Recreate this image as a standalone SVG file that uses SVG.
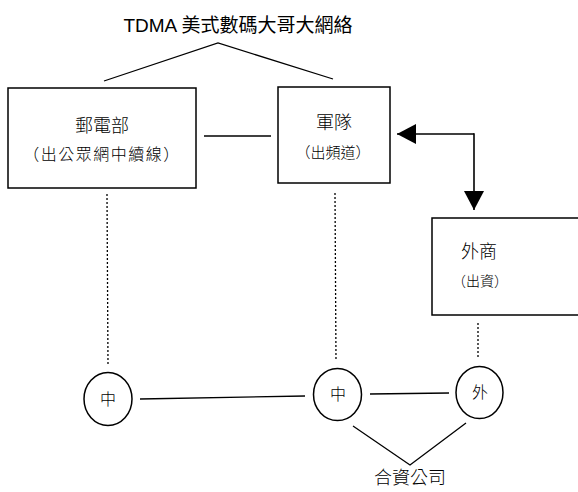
<svg xmlns="http://www.w3.org/2000/svg" width="578" height="492" viewBox="0 0 578 492">
<style>
text{font-family:"Noto Sans CJK TC","Noto Sans CJK SC","Liberation Sans",sans-serif;fill:#000;text-anchor:middle}
.box{fill:#fff;stroke:#000;stroke-width:1.5}
.ln{stroke:#000;stroke-width:1.3;fill:none}
.arr{stroke:#000;stroke-width:1.6;fill:none}
.dot{stroke:#000;stroke-width:1.3;stroke-dasharray:2 2;fill:none}
.cj{font-weight:300}
</style>
<defs>
<marker id="ah" markerWidth="22" markerHeight="22" refX="19" refY="10" orient="auto" markerUnits="userSpaceOnUse">
<path d="M0,0 L19,10 L0,20 Z" fill="#000"/>
</marker>
</defs>
<rect width="578" height="492" fill="#fff"/>
<g id="title">
<text x="238" y="32" font-size="19"><tspan font-family="Liberation Sans">TDMA </tspan>美式數碼大哥大網絡</text>
</g>
<g id="connectors">
<polyline class="ln" points="104,81 218,43 333,79"/>
<line class="ln" x1="204" y1="136" x2="271" y2="136"/>
<line class="arr" x1="474" y1="134" x2="397" y2="134" marker-end="url(#ah)"/>
<line class="arr" x1="474" y1="133.2" x2="474" y2="210" marker-end="url(#ah)"/>
<line class="dot" x1="107" y1="194" x2="108" y2="364"/>
<line class="dot" x1="335" y1="193" x2="336" y2="361"/>
<line class="dot" x1="478" y1="323" x2="478" y2="357"/>
<line class="ln" x1="140" y1="399" x2="305" y2="396"/>
<line class="ln" x1="370" y1="394" x2="449" y2="393"/>
<polyline class="ln" points="353,426 410,465 466,423"/>
</g>
<g id="node-youdian">
<rect class="box" x="8" y="88" width="188" height="100"/>
<text class="cj" x="102" y="132" font-size="18">郵電部</text>
<text class="cj" x="102" y="160" font-size="16" letter-spacing="1.5">（出公眾網中續線）</text>
</g>
<g id="node-jundui">
<rect class="box" x="278" y="87" width="112" height="96"/>
<text class="cj" x="334" y="129" font-size="18">軍隊</text>
<text class="cj" x="333" y="158" font-size="15">（出頻道）</text>
</g>
<g id="node-waishang">
<rect class="box" x="432" y="218" width="160" height="97"/>
<text class="cj" x="479" y="258" font-size="18">外商</text>
<text class="cj" x="480" y="286" font-size="14">（出資）</text>
</g>
<g id="node-zhong1">
<ellipse class="box" cx="108" cy="399" rx="24" ry="26.5"/>
<text class="cj" x="108" y="405" font-size="16">中</text>
</g>
<g id="node-zhong2">
<ellipse class="box" cx="337.5" cy="394.5" rx="24" ry="26"/>
<text class="cj" x="338" y="400" font-size="16">中</text>
</g>
<g id="node-wai">
<ellipse class="box" cx="479.5" cy="392.5" rx="23.5" ry="26"/>
<text class="cj" x="480" y="398" font-size="16">外</text>
</g>
<g id="label-jv">
<text class="cj" x="410" y="484" font-size="18">合資公司</text>
</g>
</svg>
